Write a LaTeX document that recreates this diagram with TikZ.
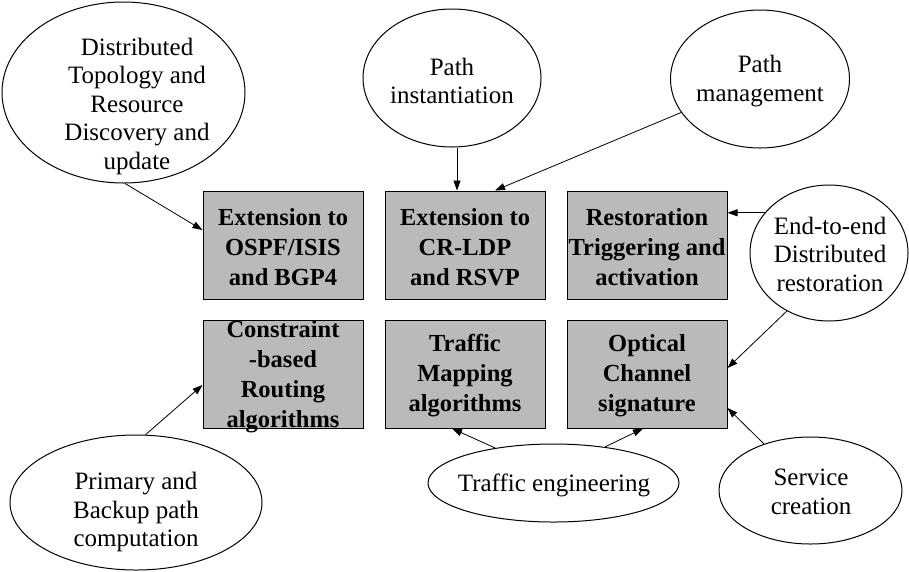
\documentclass[tikz,border=0pt]{standalone}
\usepackage{fontspec}
\setmainfont{Liberation Serif}
\usetikzlibrary{shapes.geometric,arrows.meta}
\begin{document}
\begin{tikzpicture}[x=1pt,y=-1pt,
  boxnode/.style={draw=black,line width=1pt,fill=black!27,rectangle,minimum width=160pt,minimum height=108pt,inner sep=0pt},
  boxtext/.style={align=center,inner sep=0pt,font=\fontsize{24.5pt}{30pt}\selectfont\bfseries},
  ell/.style={draw=black,line width=1pt,ellipse,inner sep=0pt},
  elltext/.style={align=center,inner sep=0pt,font=\fontsize{25pt}{28.5pt}\selectfont},
  arr/.style={draw=black,line width=0.8pt,-{Triangle[length=10pt,width=7pt]}}]
\useasboundingbox (0,0) rectangle (909,571);
% boxes
\node[boxnode] (b1) at (283,245) {};
\node[boxnode] (b2) at (465,245) {};
\node[boxnode] (b3) at (647,245) {};
\node[boxnode] (b4) at (283,374) {};
\node[boxnode] (b5) at (465,374) {};
\node[boxnode] (b6) at (647,374) {};
\node[boxtext] (b1t) at (283,247) {Extension to\\OSPF/ISIS\\and BGP4};
\node[boxtext] (b2t) at (465,247) {Extension to\\CR-LDP\\and RSVP};
\node[boxtext] (b3t) at (647,247) {Restoration\\Triggering and\\activation};
\node[boxtext] (b4t) at (283,377) {Constraint\\-based\\Routing\\algorithms};
\node[boxtext] (b5t) at (465,376) {Traffic\\Mapping\\algorithms};
\node[boxtext] (b6t) at (647,376) {Optical\\Channel\\signature};
% ellipses
\node[ell,minimum width=243pt,minimum height=181pt] (eDT) at (123.5,92.5) {};
\node[elltext] (eDTt) at (137,106) {Distributed\\Topology and\\Resource\\Discovery and\\update};
\node[ell,minimum width=178pt,minimum height=138pt] (ePI) at (452,78) {};
\node[elltext] (ePIt) at (452,81) {Path\\instantiation};
\node[ell,minimum width=179pt,minimum height=138pt] (ePM) at (760,79) {};
\node[elltext] (ePMt) at (760,81) {Path\\management};
\node[ell,minimum width=158pt,minimum height=136pt] (eEE) at (829,253) {};
\node[elltext] (eEEt) at (830,254) {End-to-end\\Distributed\\restoration};
\node[ell,minimum width=252pt,minimum height=135pt] (ePB) at (136,502.5) {};
\node[elltext] (ePBt) at (136,512) {Primary and\\Backup path\\computation};
\node[ell,minimum width=251pt,minimum height=78pt] (eTE) at (553.5,483) {};
\node[elltext] (eTEt) at (554,485) {Traffic engineering};
\node[ell,minimum width=183pt,minimum height=107pt] (eSC) at (810.5,490.5) {};
\node[elltext] (eSCt) at (811,492) {Service\\creation};
% connectors
\draw[arr] (eDT.-89) -- ([yshift=15pt]b1.west);
\draw[arr] ([xshift=5pt]ePI.south) -- ([xshift=-8pt]b2.north);
\draw[arr] (ePM.203) -- ([xshift=30pt]b2.north);
\draw[arr] (eEE.148) -- (b3.east |- eEE.148);
\draw[arr] (eEE.234) -- ([yshift=6pt]b6.east);
\draw[arr] (eSC.135.6) -- ([yshift=-34pt]b6.east);
\draw[arr] (eTE.149.7) -- ([xshift=-13pt]b5.south);
\draw[arr] (eTE.35.3) -- ([xshift=-4pt]b6.south);
\draw[arr] (ePB.82.4) -- ([yshift=-11pt]b4.west);
\end{tikzpicture}
\end{document}
